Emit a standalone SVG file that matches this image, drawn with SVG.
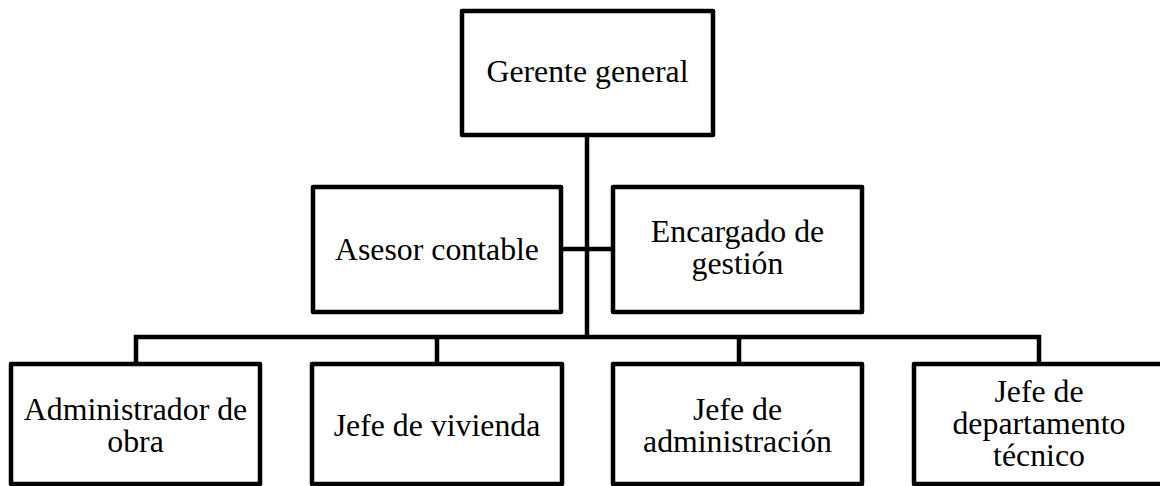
<svg xmlns="http://www.w3.org/2000/svg" width="1160" height="486" viewBox="0 0 1160 486">
<style>
.box{fill:#fff;stroke:#000;stroke-width:4.5;stroke-linejoin:round}
.conn{fill:none;stroke:#000;stroke-width:4.5;stroke-linejoin:miter}
.t{font-family:'Liberation Serif','Times New Roman',Tinos,'DejaVu Serif',serif;font-size:31.8px;fill:#000;text-anchor:middle}
</style>
<rect width="1160" height="486" fill="#fff"/>
<g id="connectors">
<path class="conn" d="M587 135 V337"/>
<path class="conn" d="M561 249 H613"/>
<path class="conn" d="M136 364 V337 H1039 V364"/>
<path class="conn" d="M437 337 V364"/>
<path class="conn" d="M739 337 V364"/>
</g>
<g id="gerente">
<rect class="box" x="462" y="11" width="251" height="124"/>
<text class="t" x="587.5" y="82">Gerente general</text>
</g>
<g id="asesor">
<rect class="box" x="313" y="187" width="248" height="125"/>
<text class="t" x="437" y="259.5">Asesor contable</text>
</g>
<g id="encargado">
<rect class="box" x="613" y="187" width="249" height="125"/>
<text class="t" x="737.5" y="241.5">Encargado de</text>
<text class="t" x="737.5" y="273.5">gestión</text>
</g>
<g id="administrador">
<rect class="box" x="11" y="364" width="249" height="120"/>
<text class="t" x="135.5" y="419.5">Administrador de</text>
<text class="t" x="135.5" y="451.5">obra</text>
</g>
<g id="vivienda">
<rect class="box" x="312" y="364" width="250" height="120"/>
<text class="t" x="437" y="435.5">Jefe de vivienda</text>
</g>
<g id="administracion">
<rect class="box" x="613" y="364" width="249" height="120"/>
<text class="t" x="737.5" y="419.5">Jefe de</text>
<text class="t" x="737.5" y="451.5">administración</text>
</g>
<g id="tecnico">
<rect class="box" x="914" y="364" width="250" height="120"/>
<text class="t" x="1039" y="402">Jefe de</text>
<text class="t" x="1039" y="434">departamento</text>
<text class="t" x="1039" y="466">técnico</text>
</g>
</svg>
